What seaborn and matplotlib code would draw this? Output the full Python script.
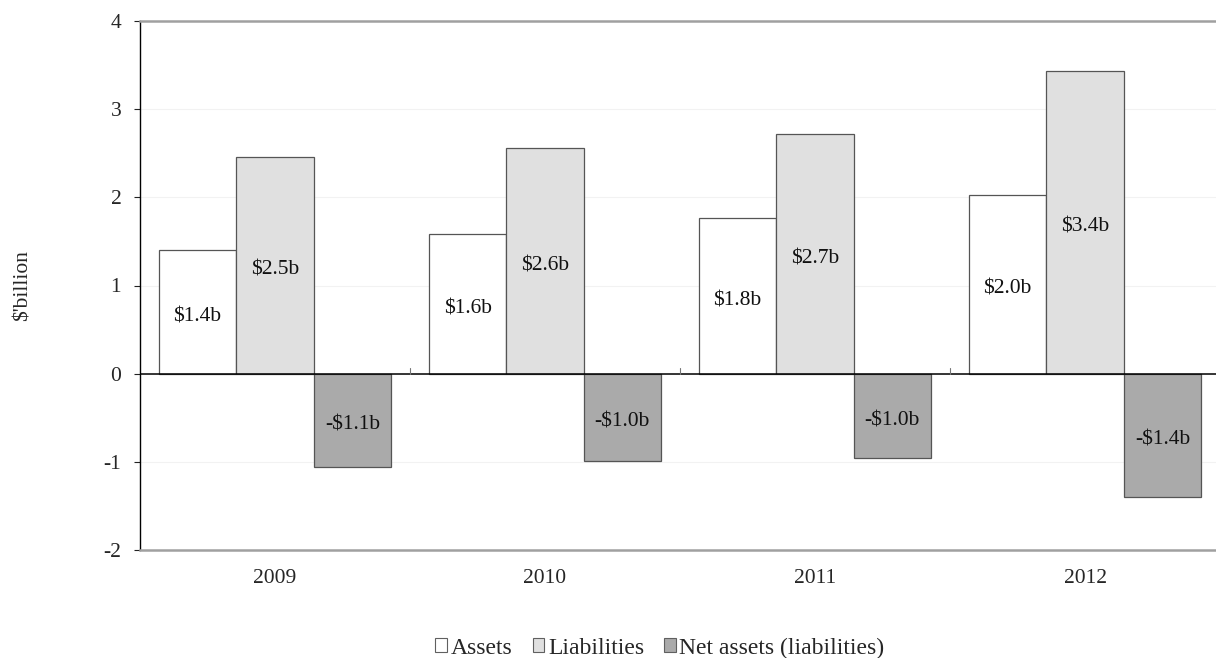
import matplotlib
matplotlib.use("Agg")
import matplotlib.pyplot as plt
import matplotlib.transforms as mtransforms
from matplotlib.patches import Patch
import seaborn as sns
import pandas as pd

# Chart data ($ billion)
years = ["2009", "2010", "2011", "2012"]
series = ["Assets", "Liabilities", "Net assets (liabilities)"]
assets = [1.40, 1.58, 1.77, 2.03]
liabilities = [2.46, 2.56, 2.72, 3.43]
net_assets = [-1.06, -0.99, -0.96, -1.40]
y_ticks = [-2, -1, 0, 1, 2, 3, 4]

colors = ["#ffffff", "#e0e0e0", "#aaaaaa"]

df = pd.DataFrame({
    "year": years * 3,
    "series": [s for s in series for _ in years],
    "value": assets + liabilities + net_assets,
})

sns.set_theme(style="white")
plt.rcParams["font.family"] = ["Liberation Serif", "DejaVu Serif"]

FS = 15.5

fig = plt.figure(figsize=(12.16, 6.58), dpi=100)
ax = fig.add_axes([140 / 1216, 108 / 658, 1076 / 1216, 529 / 658])

sns.barplot(data=df, x="year", y="value", hue="series", order=years,
            hue_order=series, palette=colors, width=0.86, dodge=True,
            edgecolor="#555555", linewidth=0.9, errorbar=None, legend=False,
            ax=ax)

# value labels centred in each bar, nudged slightly down
for container in ax.containers:
    labels = []
    for bar in container:
        val = bar.get_y() if bar.get_y() < 0 else bar.get_height()
        labels.append(f"-${abs(val):.1f}b" if val < 0 else f"${val:.1f}b")
    texts = ax.bar_label(container, labels=labels, label_type="center",
                         fontsize=FS, color="#111111")
    for t in texts:
        t.xyann = (0, -3.5)

ax.set_ylim(-2, 4)
ax.set_xlim(-0.5, 3.485)
ax.set_yticks(y_ticks)
ax.set_yticklabels([str(t) for t in y_ticks], fontsize=FS)
ax.set_xlabel("")
ax.set_ylabel("$'billion", fontsize=FS)
ax.yaxis.set_label_coords((33 - 140) / 1076, 0.5)
ax.tick_params(axis="x", length=0, labelsize=FS, pad=14)
ax.tick_params(axis="y", length=4.5, width=0.8, color="#222222", left=True, pad=9)

# faint horizontal grid
ax.yaxis.grid(True, color="#f2f2f2", linewidth=0.8)
ax.set_axisbelow(True)

# zero line with category separators
ax.axhline(0, color="black", linewidth=1.1, zorder=3)
trans = mtransforms.blended_transform_factory(ax.transData, ax.transAxes)
for k in range(len(years) - 1):
    ax.plot([k + 0.5, k + 0.5], [2 / 6, 2 / 6 + 0.011], transform=trans,
            color="#777777", linewidth=0.8, zorder=3)

for side in ["top", "bottom"]:
    ax.spines[side].set_color("#a0a0a0")
    ax.spines[side].set_linewidth(1.8)
ax.spines["right"].set_visible(False)
ax.spines["left"].set_color("black")
ax.spines["left"].set_linewidth(1.0)

handles = [Patch(facecolor=c, edgecolor="#606060", linewidth=0.8) for c in colors]
fig.legend(handles, series, loc="center", bbox_to_anchor=(660 / 1216, 10 / 658),
           ncol=3, frameon=False, fontsize=17, handlelength=0.5,
           handleheight=0.5, handletextpad=0.15, columnspacing=0.85)

fig.savefig("out.png", dpi=100)
